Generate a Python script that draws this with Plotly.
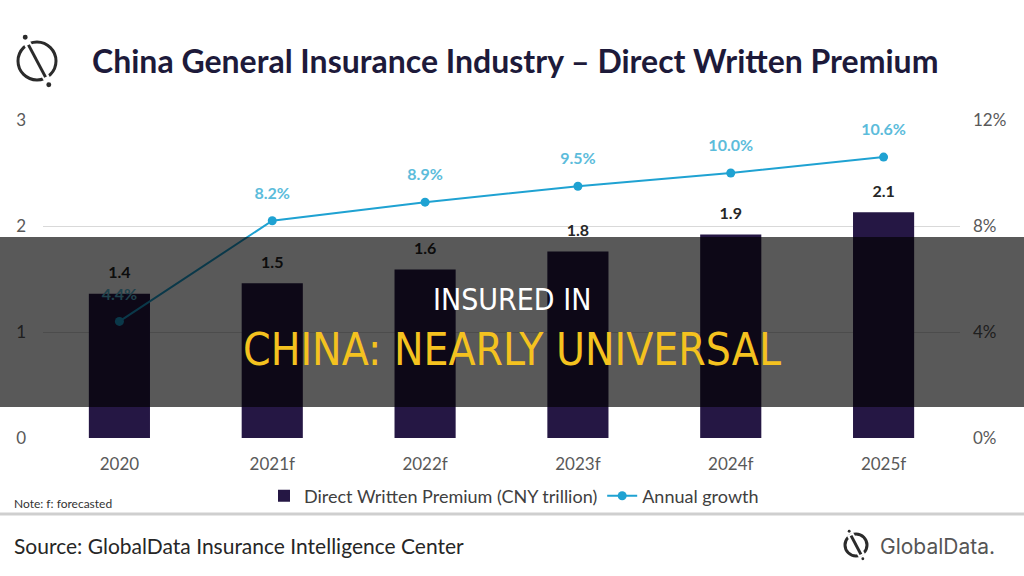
import plotly.graph_objects as go

categories = ["2020", "2021f", "2022f", "2023f", "2024f", "2025f"]
premium = [1.36, 1.46, 1.59, 1.76, 1.92, 2.13]
growth = [0.044, 0.082, 0.089, 0.095, 0.100, 0.106]
left_ticks = [0, 1, 2, 3]
right_ticks = [0, 0.04, 0.08, 0.12]

W, H = 1024, 576
L, R, T, B = 43, 64, 120, 138
PW, PH = W - L - R, H - T - B

def px(x):
    return (x - L) / PW

def py(y):
    return (H - B - y) / PH

BAR = "#251744"
LINE = "#1fa2d2"
LBL = "#5cbcdb"
TXT = "#595959"
FONT = "Lato, Open Sans, sans-serif"

fig = go.Figure()
fig.add_trace(go.Bar(
    x=categories, y=premium, name="Direct Written Premium (CNY trillion)",
    marker=dict(color=BAR, line=dict(width=0)), width=0.4,
))
fig.add_trace(go.Scatter(
    x=categories, y=premium, mode="text+markers", showlegend=False, hoverinfo="skip",
    marker=dict(size=17, color="rgba(0,0,0,0)"),
    text=[f"{v:.1f}" for v in premium], textposition="top center",
    textfont=dict(family=FONT, size=16, color="#262626", weight="bold"),
    cliponaxis=False,
))
fig.add_trace(go.Scatter(
    x=categories, y=growth, yaxis="y2", name="Annual growth",
    mode="lines+markers", line=dict(color=LINE, width=2),
    marker=dict(color=LINE, size=9), cliponaxis=False,
))
fig.add_trace(go.Scatter(
    x=categories, y=growth, yaxis="y2", mode="text+markers", showlegend=False,
    hoverinfo="skip", marker=dict(size=27, color="rgba(0,0,0,0)"),
    text=[f"{v*100:.1f}%" for v in growth], textposition="top center",
    textfont=dict(family=FONT, size=16, color=LBL, weight="bold"),
    cliponaxis=False,
))

fig.update_layout(
    width=W, height=H, margin=dict(l=L, r=R, t=T, b=B, autoexpand=False),
    paper_bgcolor="white", plot_bgcolor="white",
    font=dict(family=FONT, color=TXT, size=16),
    showlegend=True,
    xaxis=dict(type="category", showgrid=False, showline=False, ticks="",
               tickfont=dict(size=17, color=TXT), ticklabelstandoff=14),
    yaxis=dict(range=[0, 3], tickvals=left_ticks, ticktext=[str(v) for v in left_ticks],
               showgrid=True, gridcolor="#d9d9d9", gridwidth=1, zeroline=False,
               showline=False, ticks="", tickfont=dict(size=17, color=TXT),
               ticklabelstandoff=16),
    yaxis2=dict(range=[0, 0.12], tickvals=right_ticks,
                ticktext=[f"{v*100:.0f}%" for v in right_ticks], overlaying="y",
                side="right", showgrid=False, zeroline=False, showline=False,
                ticks="", tickfont=dict(size=17, color=TXT), ticklabelstandoff=12),
    legend=dict(orientation="h", x=px(514), xanchor="center", y=py(496), yanchor="middle",
                font=dict(size=18, color="#404040"), bgcolor="rgba(0,0,0,0)",
                itemwidth=30, tracegroupgap=0),
)

shapes = []
# overlay band
shapes.append(dict(type="rect", xref="paper", yref="paper", x0=px(0), x1=px(W),
                   y0=py(407), y1=py(237), fillcolor="rgba(0,0,0,0.65)",
                   line=dict(width=0), layer="above"))
# separator line
shapes.append(dict(type="line", xref="paper", yref="paper", x0=px(0), x1=px(W),
                   y0=py(514), y1=py(514), line=dict(color="#cfcfcf", width=3)))

def logo(cx, cy, r, color):
    out = []
    out.append(dict(type="circle", xref="paper", yref="paper", xsizemode="pixel",
                    ysizemode="pixel", xanchor=px(cx), yanchor=py(cy),
                    x0=-r, x1=r, y0=-r, y1=r, line=dict(color=color, width=3)))
    out.append(dict(type="line", xref="paper", yref="paper", xsizemode="pixel",
                    ysizemode="pixel", xanchor=px(cx), yanchor=py(cy),
                    x0=-r * 0.55, y0=r * 1.0, x1=r * 0.55, y1=-r * 1.0,
                    line=dict(color="white", width=7)))
    out.append(dict(type="line", xref="paper", yref="paper", xsizemode="pixel",
                    ysizemode="pixel", xanchor=px(cx), yanchor=py(cy),
                    x0=-r * 0.45, y0=r * 0.85, x1=r * 0.45, y1=-r * 0.85,
                    line=dict(color=color, width=3)))
    for sx, sy in [(-0.62, 1.25), (0.62, -1.25)]:
        d = r * 0.13
        out.append(dict(type="circle", xref="paper", yref="paper", xsizemode="pixel",
                        ysizemode="pixel", xanchor=px(cx + sx * r), yanchor=py(cy - sy * r),
                        x0=-d, x1=d, y0=-d, y1=d, fillcolor=color, line=dict(width=0)))
    return out

shapes += logo(37, 61, 19, "#2b2b2b")
shapes += logo(856, 545, 11, "#2b2b2b")
fig.update_layout(shapes=shapes)

ann = []
ann.append(dict(text="China General Insurance Industry – Direct Written Premium",
                xref="paper", yref="paper", x=px(90), y=py(61), xanchor="left",
                yanchor="middle", showarrow=False,
                font=dict(family=FONT, size=32, color="#1d1a3a", weight="bold")))
ann.append(dict(text="Note: f: forecasted", xref="paper", yref="paper", x=px(12),
                y=py(503), xanchor="left", yanchor="middle", showarrow=False,
                font=dict(family=FONT, size=12, color="#333333")))
ann.append(dict(text="Source: GlobalData Insurance Intelligence Center", xref="paper",
                yref="paper", x=px(12), y=py(545), xanchor="left", yanchor="middle",
                showarrow=False, font=dict(family=FONT, size=21, color="#262626")))
ann.append(dict(text="GlobalData.", xref="paper", yref="paper", x=px(878),
                y=py(546), xanchor="left", yanchor="middle", showarrow=False,
                font=dict(family="Inter, sans-serif", size=21, color="#555555")))
OV = "Liberation Sans Narrow, DejaVu Sans Condensed, sans-serif"
ann.append(dict(text="INSURED IN", xref="paper", yref="paper", x=px(512), y=py(299),
                xanchor="center", yanchor="middle", showarrow=False,
                font=dict(family=OV, size=30, color="white")))
ann.append(dict(text="CHINA: NEARLY UNIVERSAL", xref="paper", yref="paper", x=px(512),
                y=py(349), xanchor="center", yanchor="middle", showarrow=False,
                font=dict(family=OV, size=44, color="#f4c21f")))
fig.update_layout(annotations=ann)

fig.write_html(
    "out.html",
    config={"displayModeBar": False},
    post_script="document.body.style.margin='0';document.documentElement.style.margin='0';document.body.style.overflow='hidden';",
)
